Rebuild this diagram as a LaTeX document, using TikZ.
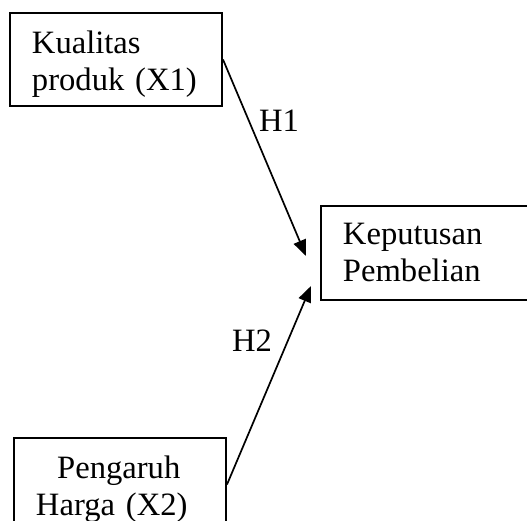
\documentclass[tikz,border=0pt]{standalone}
\usepackage{fontspec}
\setmainfont{Liberation Serif}
\usetikzlibrary{positioning}
\usetikzlibrary{arrows.meta}
\tikzset{
	varbox/.style={draw, rectangle, line width=1pt, align=left, text width=84pt, inner xsep=11pt, inner ysep=0pt, text height=20pt, text depth=26.5pt, font=\fontsize{16.3}{18.5}\selectfont},
	hyp/.style={font=\fontsize{16.3}{18.5}\selectfont, inner sep=0pt},
}

\begin{document}
\begin{tikzpicture}[x=0.5pt, y=-0.5pt]
			\useasboundingbox (0,0) rectangle (527,521);
			\node (x1) [varbox, anchor=north west] at (9,12) {Kualitas\\produk (X1)};
			\node (x2) [varbox, below=165pt of x1.south west, anchor=north west, xshift=2pt] {\hspace{0.65em}Pengaruh\\Harga (X2)};
			\node (y) [varbox, text width=81.5pt, text height=19pt, text depth=28pt, anchor=north west] at (320,205) {Keputusan\\Pembelian};
			
			\node (h1) [hyp] at (279,121) {H1};
			\node (h2) [hyp] at (252,341) {H2};
			
			\coordinate (t1) at (306,256);
			\coordinate (t2) at (311,286);
			
			\begin{scope}[line width=0.85pt, black, -{Triangle[length=8pt, width=6.5pt]}]
				\draw (x1.east) -- (t1);
				\draw (x2.east) -- (t2);
			\end{scope}
		\end{tikzpicture}
\end{document}
